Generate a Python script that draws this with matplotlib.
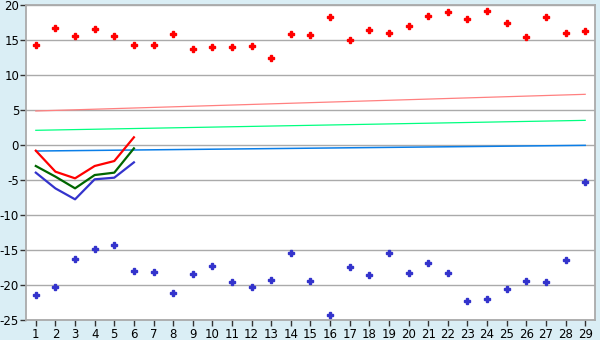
import matplotlib
matplotlib.use("Agg")
import matplotlib.pyplot as plt

days = list(range(1, 30))
max_pts = [14.24, 16.67, 15.52, 16.52, 15.52, 14.24, 14.24, 15.81, 13.67, 13.95,
           13.95, 14.1, 12.38, 15.81, 15.67, 18.24, 14.95, 16.38, 15.95, 16.95,
           18.38, 18.95, 17.95, 19.1, 17.38, 15.38, 18.24, 15.95, 16.24]
min_pts = [-21.48, -20.33, -16.33, -14.9, -14.33, -18.05, -18.19, -21.19, -18.48, -17.33,
           -19.62, -20.33, -19.33, -15.48, -19.48, -24.33, -17.48, -18.62, -15.48, -18.33,
           -16.9, -18.33, -22.33, -22.05, -20.62, -19.48, -19.62, -16.48, -5.33]
cur_days = [1, 2, 3, 4, 5, 6]
cur_max = [-0.81, -3.81, -4.76, -3.0, -2.29, 1.1]
cur_mean = [-3.0, -4.52, -6.19, -4.29, -3.95, -0.48]
cur_min = [-3.95, -6.2, -7.76, -4.9, -4.67, -2.48]
trend_days = [1, 29]
trend_max = [4.86, 7.24]
trend_mean = [2.1, 3.52]
trend_min = [-0.86, -0.05]
yticks = [20, 15, 10, 5, 0, -5, -10, -15, -20, -25]

plt.rcParams['axes.unicode_minus'] = False
plt.rcParams['font.family'] = ['DejaVu Sans']

fig = plt.figure(figsize=(6, 3.4), dpi=100, facecolor='#DAEEF5')
ax = fig.add_axes([26/600, 1-320/340, (595-26)/600, (320-5)/340])
ax.set_facecolor('white')

for y in yticks:
    ax.axhline(y, color='#AAAAAA', lw=1, zorder=1)

ax.plot(trend_days, trend_max, color='#FF8080', lw=0.9, zorder=2)
ax.plot(trend_days, trend_mean, color='#00FF80', lw=0.9, zorder=2)
ax.plot(trend_days, trend_min, color='#0A7EE8', lw=1.1, zorder=2)

ax.plot(cur_days, cur_max, color='#FF0000', lw=1.6, zorder=3)
ax.plot(cur_days, cur_mean, color='#006600', lw=1.6, zorder=3)
ax.plot(cur_days, cur_min, color='#3333CC', lw=1.6, zorder=3)

ax.plot(days, max_pts, linestyle='none', marker='P', markersize=4.2, color='#FF0000', zorder=4)
ax.plot(days, min_pts, linestyle='none', marker='P', markersize=4.2, color='#3333CC', zorder=4)

ax.set_xlim(0.5, 29.5)
ax.set_ylim(-25, 20)
ax.set_xticks(days)
ax.set_xticklabels([str(d) for d in days])
ax.set_yticks(yticks)
ax.set_yticklabels([str(y) for y in yticks])
for s in ax.spines.values():
    s.set_color('#AAAAAA')
    s.set_linewidth(1.3)
ax.tick_params(axis='both', colors='#333333', labelcolor='black', labelsize=8.5, length=4, width=1)
ax.tick_params(axis='x', pad=2)
ax.tick_params(axis='y', pad=1)

fig.savefig('out.png', dpi=100, facecolor=fig.get_facecolor())
